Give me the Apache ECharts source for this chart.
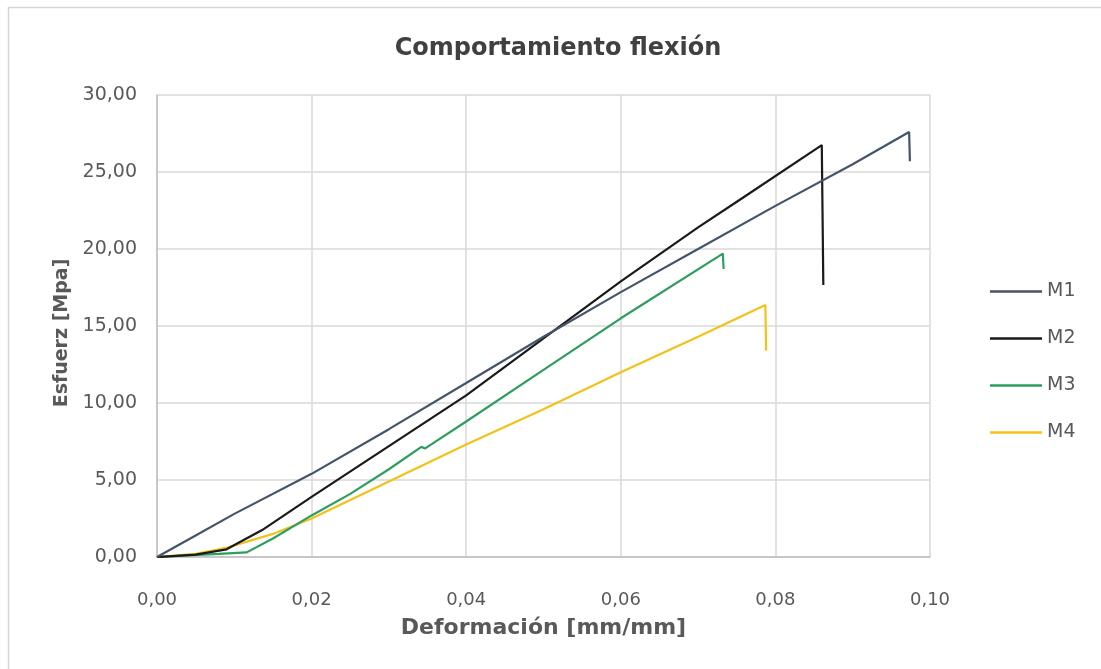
<!DOCTYPE html>
<html>
<head>
<meta charset="utf-8">
<script src="https://cdn.jsdelivr.net/npm/echarts@6/dist/echarts.min.js"></script>
<style>
html,body{margin:0;padding:0;background:#fff;}
#c{width:1101px;height:669px;}
</style>
</head>
<body>
<div id="c"></div>
<script>
const seriesNames = ['M1', 'M2', 'M3', 'M4'];
const M1 = [[0,0],[0.005,1.4],[0.01,2.8],[0.02,5.4],[0.03,8.3],[0.04,11.3],[0.05,14.3],[0.06,17.2],[0.07,20.0],[0.08,22.8],[0.09,25.5],[0.0973,27.6],[0.0974,25.7]];
const M2 = [[0,0],[0.005,0.15],[0.009,0.5],[0.0136,1.75],[0.02,3.9],[0.03,7.2],[0.04,10.5],[0.05,14.2],[0.06,17.9],[0.07,21.4],[0.0754,23.2],[0.086,26.75],[0.0862,17.66]];
const M3 = [[0,0],[0.004,0.1],[0.008,0.2],[0.0116,0.3],[0.015,1.2],[0.02,2.7],[0.025,4.1],[0.03,5.7],[0.0342,7.15],[0.0347,7.05],[0.04,8.8],[0.05,12.15],[0.06,15.5],[0.0732,19.7],[0.0733,18.7]];
const M4 = [[0,0],[0.005,0.2],[0.009,0.6],[0.015,1.5],[0.02,2.5],[0.03,4.9],[0.04,7.3],[0.05,9.6],[0.06,12.0],[0.07,14.3],[0.0787,16.36],[0.0788,13.4]];
const seriesData = [M1, M2, M3, M4];
const colors = ['#44546A', '#1a1a1a', '#2E9E5E', '#F2C218'];
const xTicks = {min: 0, max: 0.10, interval: 0.02};
const yTicks = {min: 0, max: 30, interval: 5};

const chart = echarts.init(document.getElementById('c'));
const fmt = v => v.toFixed(2).replace('.', ',');
const FONT = 'DejaVu Sans';
chart.setOption({
  animation: false,
  backgroundColor: '#fff',
  title: {
    text: 'Comportamiento flexión',
    left: 553, top: 32, textAlign: 'center',
    textStyle: {fontFamily: FONT, fontSize: 24, fontWeight: 'bold', color: '#404040'}
  },
  graphic: [
    {type: 'line', shape: {x1: 8.5, y1: 7, x2: 8.5, y2: 669}, style: {stroke: '#d6d6d6', lineWidth: 1.5}},
    {type: 'line', shape: {x1: 8, y1: 7.5, x2: 1101, y2: 7.5}, style: {stroke: '#d6d6d6', lineWidth: 1.5}}
  ],
  legend: {
    orient: 'vertical', left: 985, top: 277,
    icon: 'rect', itemWidth: 52, itemHeight: 2.5, itemGap: 28, itemGap: 28,
    textStyle: {fontFamily: FONT, fontSize: 19, color: '#595959'},
    data: seriesNames
  },
  grid: {left: 157, top: 95, right: 171, bottom: 112, containLabel: false},
  xAxis: {
    type: 'value', min: xTicks.min, max: xTicks.max, interval: xTicks.interval,
    name: 'Deformación [mm/mm]', nameLocation: 'middle', nameGap: 60,
    nameTextStyle: {fontFamily: FONT, fontSize: 22, fontWeight: 'bold', color: '#595959'},
    axisLine: {show: true, lineStyle: {color: '#bfbfbf', width: 1.5}},
    axisTick: {show: false},
    axisLabel: {formatter: fmt, fontFamily: FONT, fontSize: 18, color: '#595959', margin: 34},
    splitLine: {show: true, lineStyle: {color: '#d9d9d9', width: 1.5}}
  },
  yAxis: {
    type: 'value', min: yTicks.min, max: yTicks.max, interval: yTicks.interval,
    name: 'Esfuerz [Mpa]', nameLocation: 'middle', nameGap: 84,
    nameTextStyle: {fontFamily: FONT, fontSize: 19, fontWeight: 'bold', color: '#595959', padding: [0, 0, 0, -14]},
    axisLine: {show: true, lineStyle: {color: '#bfbfbf', width: 1.5}},
    axisTick: {show: false},
    axisLabel: {formatter: fmt, fontFamily: FONT, fontSize: 19, color: '#595959', margin: 20},
    splitLine: {show: true, lineStyle: {color: '#d9d9d9', width: 1.5}}
  },
  series: seriesNames.map((n, i) => ({
    name: n, type: 'line', data: seriesData[i], showSymbol: false, symbol: 'none',
    color: colors[i], lineStyle: {width: 2.2, color: colors[i]}, z: 10 - i
  }))
});
</script>
</body>
</html>
